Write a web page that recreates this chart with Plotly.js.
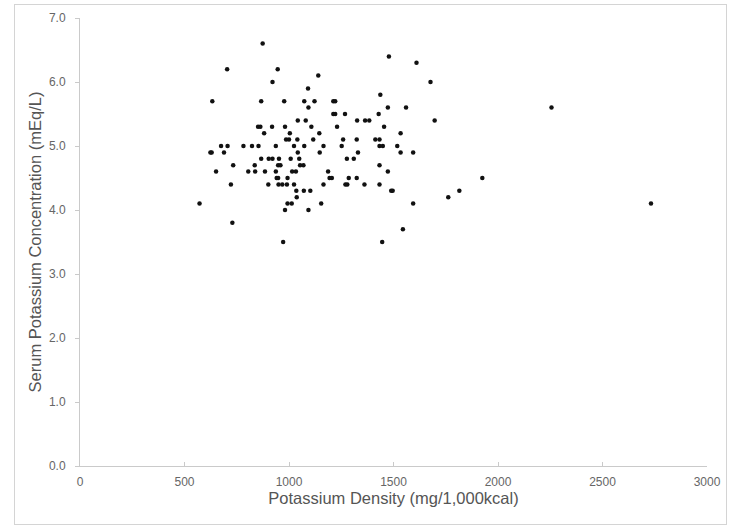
<!DOCTYPE html>
<html><head><meta charset="utf-8">
<script src="https://cdn.plot.ly/plotly-3.0.1.min.js"></script>
<style>
html,body{margin:0;padding:0;background:#fff;}
#wrap{position:relative;width:732px;height:526px;}
#chart{position:absolute;left:0;top:0;width:732px;height:526px;}
#frame{position:absolute;left:14px;top:4px;width:711px;height:519px;border:1px solid #d4d4d4;pointer-events:none;}
</style></head>
<body><div id="wrap"><div id="chart"></div><div id="frame"></div></div>
<script>
const densityX = [874,1478,704,946,1610,1140,921,1677,1091,633,867,977,1073,1122,1212,1221,1437,1093,1473,1560,2256,
1042,1080,1326,1364,1384,1697,1212,1221,1268,1429,852,863,919,981,1107,1230,1455,881,1004,1145,1534,
986,1000,1040,1116,1259,1324,1413,1433,675,706,782,823,854,937,1024,1073,1165,1252,1433,1449,1518,
624,630,689,1042,1147,1330,1534,1594,867,903,921,952,1008,1049,1277,1310,733,836,948,959,1053,1069,1433,
651,805,838,885,937,1015,1033,1187,1473,941,948,993,1194,1205,1286,1324,1925,722,901,950,968,990,1024,1165,
1270,1279,1361,1433,1035,1071,1102,1489,1496,1815,1037,1762,572,993,1013,1154,1594,2732,981,1093,729,1545,972,1446];
const serumK = [6.6,6.4,6.2,6.2,6.3,6.1,6.0,6.0,5.9,5.7,5.7,5.7,5.7,5.7,5.7,5.7,5.8,5.6,5.6,5.6,5.6,
5.4,5.4,5.4,5.4,5.4,5.4,5.5,5.5,5.5,5.5,5.3,5.3,5.3,5.3,5.3,5.3,5.3,5.2,5.2,5.2,5.2,
5.1,5.1,5.1,5.1,5.1,5.1,5.1,5.1,5.0,5.0,5.0,5.0,5.0,5.0,5.0,5.0,5.0,5.0,5.0,5.0,5.0,
4.9,4.9,4.9,4.9,4.9,4.9,4.9,4.9,4.8,4.8,4.8,4.8,4.8,4.8,4.8,4.8,4.7,4.7,4.7,4.7,4.7,4.7,4.7,
4.6,4.6,4.6,4.6,4.6,4.6,4.6,4.6,4.6,4.5,4.5,4.5,4.5,4.5,4.5,4.5,4.5,4.4,4.4,4.4,4.4,4.4,4.4,4.4,
4.4,4.4,4.4,4.4,4.3,4.3,4.3,4.3,4.3,4.3,4.2,4.2,4.1,4.1,4.1,4.1,4.1,4.1,4.0,4.0,3.8,3.7,3.5,3.5];
const xTicks = [0,500,1000,1500,2000,2500,3000];
const yTicks = [0,1,2,3,4,5,6,7];
const xTitle = 'Potassium Density (mg/1,000kcal)';
const yTitle = 'Serum Potassium Concentration (mEq/L)';

const FONT = 'Liberation Sans, Arial, sans-serif';
const trace = {
  x: densityX, y: serumK, type: 'scatter', mode: 'markers',
  marker: {color: '#111', size: 4.5, symbol: 'circle'},
  hoverinfo: 'x+y'
};
const axisCommon = {
  showgrid: false, zeroline: false, showline: true, linecolor: '#cacaca', linewidth: 1,
  tickcolor: '#cacaca', ticklen: 4,
  tickfont: {family: FONT, size: 12, color: '#666'}
};
const layout = {
  width: 732, height: 526,
  margin: {l: 80, r: 25, t: 18, b: 60},
  paper_bgcolor: '#fff', plot_bgcolor: '#fff',
  showlegend: false,
  xaxis: Object.assign({}, axisCommon, {
    range: [0, 3000], tickvals: xTicks, ticktext: xTicks.map(String), ticks: 'inside', ticklabelstandoff: 5,
    title: {text: xTitle, font: {family: FONT, size: 16.5, color: '#555'}, standoff: 4}
  }),
  yaxis: Object.assign({}, axisCommon, {
    range: [0, 7], tickvals: yTicks, ticktext: yTicks.map(v => v.toFixed(1)), ticks: 'outside', ticklabelstandoff: 7,
    title: {text: yTitle, font: {family: FONT, size: 16.5, color: '#555'}, standoff: 3}
  })
};
Plotly.newPlot('chart', [trace], layout, {staticPlot: true, displayModeBar: false});
</script></body></html>
